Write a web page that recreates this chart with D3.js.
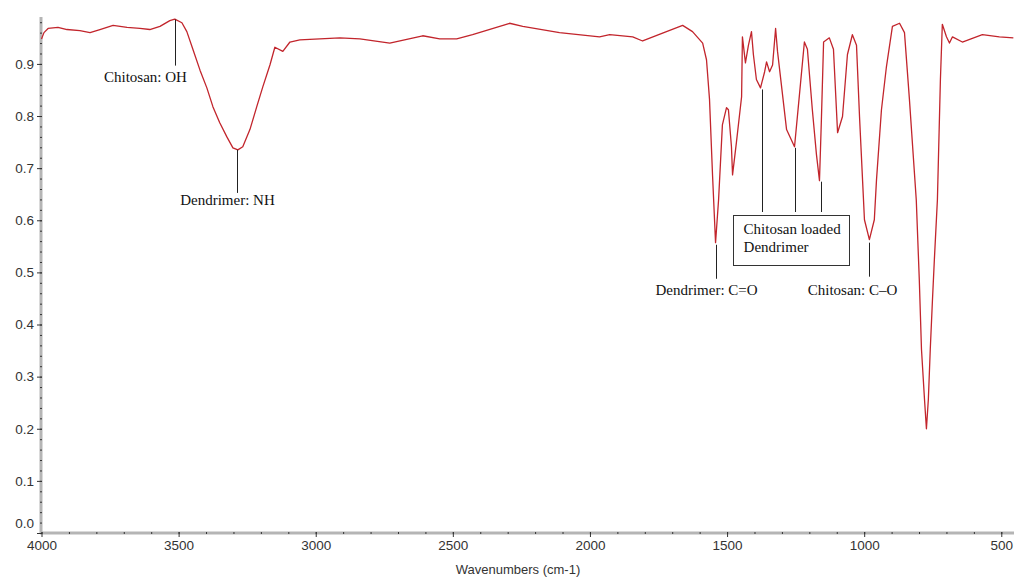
<!DOCTYPE html>
<html lang="en">

<head>
    <meta charset="utf-8">
    <script src="https://d3js.org/d3.v7.min.js"></script>
    <style>
        body { margin: 0; background: #fff; }
        svg { display: block; }
    </style>
</head>

<body>
    <div id="graph"></div>
    <script>
        // spectrum: wavenumber (cm-1) and transmittance
        var wavenumbers = [
            4000, 3991, 3976, 3940, 3907, 3860, 3823, 3787, 3739, 3688,
            3641, 3605, 3568, 3532, 3514, 3488, 3470, 3448, 3422, 3397,
            3375, 3350, 3324, 3302, 3284, 3266, 3240, 3215, 3193, 3167,
            3149, 3120, 3094, 3058, 2912, 2839, 2730, 2610, 2548, 2486,
            2428, 2293, 2245, 2111, 1965, 1928, 1844, 1808, 1721, 1662,
            1626, 1589, 1575, 1564, 1553, 1542, 1531, 1517, 1502, 1495,
            1484, 1480, 1466, 1447, 1444, 1433, 1422, 1411, 1404, 1393,
            1378, 1363, 1356, 1345, 1334, 1323, 1316, 1283, 1254, 1236,
            1218, 1207, 1189, 1174, 1163, 1156, 1148, 1127, 1112, 1097,
            1079, 1061, 1043, 1028, 1017, 1006, 999, 981, 963, 955,
            937, 919, 897, 871, 853, 835, 810, 799, 791, 780,
            773, 766, 759, 751, 744, 733, 722, 715, 700, 689,
            678, 642, 569, 507, 456
        ];
        var transmittance = [
            0.948, 0.960, 0.968, 0.970, 0.966, 0.964, 0.960, 0.966, 0.974, 0.970,
            0.968, 0.966, 0.972, 0.983, 0.986, 0.979, 0.962, 0.928, 0.888, 0.854,
            0.818, 0.787, 0.760, 0.739, 0.735, 0.741, 0.774, 0.818, 0.856, 0.898,
            0.932, 0.924, 0.942, 0.946, 0.950, 0.948, 0.940, 0.954, 0.948, 0.948,
            0.956, 0.978, 0.972, 0.960, 0.952, 0.956, 0.952, 0.944, 0.962, 0.974,
            0.962, 0.940, 0.908, 0.832, 0.687, 0.557, 0.639, 0.783, 0.816, 0.812,
            0.741, 0.687, 0.749, 0.837, 0.952, 0.902, 0.936, 0.962, 0.918, 0.870,
            0.854, 0.885, 0.904, 0.885, 0.898, 0.968, 0.924, 0.774, 0.741, 0.841,
            0.942, 0.928, 0.812, 0.726, 0.676, 0.793, 0.942, 0.950, 0.928, 0.768,
            0.799, 0.918, 0.956, 0.936, 0.799, 0.678, 0.601, 0.563, 0.601, 0.678,
            0.812, 0.894, 0.972, 0.978, 0.960, 0.832, 0.639, 0.486, 0.352, 0.256,
            0.200, 0.256, 0.352, 0.447, 0.525, 0.639, 0.870, 0.976, 0.952, 0.940,
            0.952, 0.942, 0.956, 0.952, 0.950
        ];

        var xTicks = [4000, 3500, 3000, 2500, 2000, 1500, 1000, 500];
        var yTicks = [0.0, 0.1, 0.2, 0.3, 0.4, 0.5, 0.6, 0.7, 0.8, 0.9];

        // single peak labels
        var peakLabels = ["Chitosan: OH", "Dendrimer: NH", "Dendrimer: C=O", "Chitosan: C\u2013O"];
        var peakWn = [3514, 3286, 1540, 981];
        var peakValue = [0.985, 0.735, 0.553, 0.557];

        // boxed label, three peaks
        var boxLines = ["Chitosan loaded", "Dendrimer"];
        var boxWn = [1374, 1251, 1159];
        var boxValue = [0.851, 0.739, 0.674];

        var data = wavenumbers.map((w, i) => ({ wn: w, t: transmittance[i] }));

        var W = 1014, H = 577;
        var svg = d3.select("#graph").append("svg")
            .attr("width", W)
            .attr("height", H);

        var x = d3.scaleLinear().domain([4000, 450]).range([41.5, 1015]);
        var y = d3.scaleLinear().domain([0, 0.99]).range([533, 17]);

        var axisFont = "'Liberation Sans', Arial, sans-serif";
        var serif = "'Liberation Serif', 'Times New Roman', serif";

        // axis bars (thick gray)
        svg.append("line")
            .attr("x1", 41).attr("x2", 41)
            .attr("y1", y(0.99)).attr("y2", 534)
            .attr("stroke", "#b5b5b5").attr("stroke-width", 3);
        svg.append("line")
            .attr("x1", 40).attr("x2", W)
            .attr("y1", 533).attr("y2", 533)
            .attr("stroke", "#b5b5b5").attr("stroke-width", 3);

        // y axis
        var yMinor = d3.range(0.02, 0.99, 0.02);
        svg.append("g")
            .attr("transform", "translate(42,0)")
            .call(d3.axisLeft(y).tickValues(yMinor).tickSize(2).tickFormat(""))
            .call(g => g.select(".domain").remove())
            .call(g => g.selectAll("line").attr("stroke", "#333"));
        svg.append("g")
            .attr("transform", "translate(42,0)")
            .call(d3.axisLeft(y).tickValues(yTicks).tickSize(5).tickPadding(3).tickFormat(d3.format(".1f")))
            .call(g => g.select(".domain").remove())
            .call(g => g.selectAll("line").attr("stroke", "#333"))
            .call(g => g.selectAll("text")
                .attr("fill", "#333")
                .style("font-family", axisFont)
                .style("font-size", "13.5px"))
            // the bottom label sits just above the x axis
            .call(g => g.selectAll(".tick").filter(d => d === 0).select("text").attr("y", -10));

        // x axis
        var xMinor = d3.range(4000, 449, -100);
        svg.append("g")
            .attr("transform", "translate(0,532)")
            .call(d3.axisBottom(x).tickValues(xMinor).tickSize(2).tickFormat(""))
            .call(g => g.select(".domain").remove())
            .call(g => g.selectAll("line").attr("stroke", "#333"));
        svg.append("g")
            .attr("transform", "translate(0,532)")
            .call(d3.axisBottom(x).tickValues(xTicks).tickSize(5).tickPadding(3).tickFormat(d3.format("d")))
            .call(g => g.select(".domain").remove())
            .call(g => g.selectAll("line").attr("stroke", "#333"))
            .call(g => g.selectAll("text")
                .attr("fill", "#333")
                .style("font-family", axisFont)
                .style("font-size", "13.5px"));

        svg.append("text")
            .attr("x", 518)
            .attr("y", 574)
            .attr("text-anchor", "middle")
            .attr("fill", "#333")
            .style("font-family", axisFont)
            .style("font-size", "13px")
            .text("Wavenumbers (cm-1)");

        // spectrum
        var line = d3.line()
            .x(d => x(d.wn))
            .y(d => y(d.t));

        svg.append("path")
            .datum(data)
            .attr("fill", "none")
            .attr("stroke", "#c2252c")
            .attr("stroke-width", 1.3)
            .attr("stroke-linejoin", "round")
            .attr("d", line);

        // peak annotations: leader length, label dx, label dy (px)
        var leadLen = [46, 43, 34, 34];
        var labelDx = [-30, -10, -10, -17];
        var labelDy = [16, 12, 16, 18];

        var ann = svg.append("g");
        peakLabels.forEach(function(lbl, i) {
            var px = Math.round(x(peakWn[i])) + 0.5;
            var py = y(peakValue[i]);
            ann.append("line")
                .attr("x1", px).attr("x2", px)
                .attr("y1", py).attr("y2", py + leadLen[i])
                .attr("stroke", "#222").attr("stroke-width", 1);
            ann.append("text")
                .attr("x", px + labelDx[i])
                .attr("y", py + leadLen[i] + labelDy[i])
                .attr("text-anchor", "middle")
                .attr("fill", "#111")
                .style("font-family", serif)
                .style("font-size", "15px")
                .text(lbl);
        });

        // boxed label
        var boxTop = 215, boxBottom = 265;
        var boxLeft = x(boxWn[0]) - 29, boxRight = x(boxWn[2]) + 28;
        boxWn.forEach(function(w, i) {
            var px = Math.round(x(w)) + 0.5;
            ann.append("line")
                .attr("x1", px).attr("x2", px)
                .attr("y1", y(boxValue[i])).attr("y2", boxTop - 3)
                .attr("stroke", "#222").attr("stroke-width", 1);
        });
        ann.append("rect")
            .attr("x", Math.round(boxLeft) + 0.5)
            .attr("y", boxTop + 0.5)
            .attr("width", Math.round(boxRight - boxLeft))
            .attr("height", boxBottom - boxTop)
            .attr("fill", "none")
            .attr("stroke", "#333")
            .attr("stroke-width", 1);
        ann.append("text")
            .attr("x", boxLeft + 11)
            .attr("y", boxTop + 19)
            .attr("fill", "#111")
            .style("font-family", serif)
            .style("font-size", "15px")
            .selectAll("tspan")
            .data(boxLines)
            .enter().append("tspan")
            .attr("x", boxLeft + 11)
            .attr("dy", (d, i) => i === 0 ? 0 : 18)
            .text(d => d);
    </script>
</body>

</html>
